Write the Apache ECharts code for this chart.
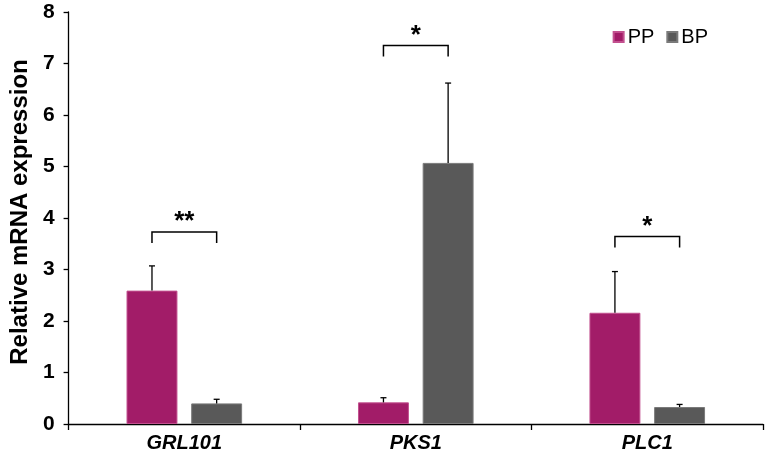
<!DOCTYPE html>
<html>
<head>
<meta charset="utf-8">
<script src="https://cdn.jsdelivr.net/npm/echarts@6/dist/echarts.min.js"></script>
<style>
    html, body { margin: 0; padding: 0; background: #fff; }
    #chart { width: 765px; height: 460px; }
</style>
</head>
<body>
<div id="chart"></div>
<script>
var genes = ['GRL101', 'PKS1', 'PLC1'];
var ppValues = [2.59, 0.42, 2.16];
var bpValues = [0.40, 5.07, 0.33];
var ppErrors = [0.48, 0.09, 0.80];
var bpErrors = [0.08, 1.55, 0.05];
// significance brackets: category index, height, label
var sigLevels = [3.73, 7.35, 3.64];
var sigLabels = ['**', '*', '*'];

var BAR_W = 0.22, BAR_GAP = 0.27;
var OFFSET = (BAR_W + BAR_W * BAR_GAP) / 2;
var FONT = '"Liberation Sans", Arial, sans-serif';

function errorBar(side) {
    return function (params, api) {
        var i = api.value(0);
        var top = api.coord([i, api.value(1) + api.value(2)]);
        var base = api.coord([i, api.value(1)]);
        var w = api.size([1, 0])[0];
        var x = base[0] + side * OFFSET * w;
        var style = { stroke: '#000', lineWidth: 1.3 };
        return {
            type: 'group',
            children: [
                { type: 'line', shape: { x1: x, y1: base[1], x2: x, y2: top[1] }, style: style },
                { type: 'line', shape: { x1: x - 3, y1: top[1], x2: x + 3, y2: top[1] }, style: style }
            ]
        };
    };
}

function bracket(params, api) {
    var i = api.value(0);
    var p = api.coord([i, api.value(1)]);
    var w = api.size([1, 0])[0];
    var x1 = p[0] - OFFSET * w, x2 = p[0] + OFFSET * w;
    var style = { stroke: '#000', lineWidth: 1.5, fill: 'none' };
    return {
        type: 'group',
        children: [
            { type: 'polyline', shape: { points: [[x1, p[1] + 11], [x1, p[1]], [x2, p[1]], [x2, p[1] + 11]] }, style: style },
            { type: 'text', style: { text: sigLabels[params.dataIndex], x: p[0], y: p[1] + 3,
                align: 'center', verticalAlign: 'bottom',
                font: 'bold 26px ' + FONT, fill: '#000' } }
        ]
    };
}

var chart = echarts.init(document.getElementById('chart'));

var option = {
    animation: false,
    backgroundColor: '#fff',
    textStyle: { fontFamily: FONT },
    grid: { left: 65, right: 2, top: 12, bottom: 36 },
    legend: {
        data: ['PP', 'BP'],
        right: 52,
        top: 22,
        icon: 'rect',
        itemWidth: 10,
        itemHeight: 10,
        itemGap: 12,
        textStyle: { fontSize: 20, color: '#000', padding: [0, 0, 0, -1] }
    },
    xAxis: {
        type: 'category',
        data: genes,
        axisLine: { lineStyle: { color: '#000', width: 1.3 } },
        axisTick: { show: true, length: 6, lineStyle: { color: '#000', width: 1.3 } },
        axisLabel: { color: '#000', fontSize: 20, fontWeight: 'bold', fontStyle: 'italic', margin: 9 }
    },
    yAxis: {
        type: 'value',
        min: 0,
        max: 8,
        interval: 1,
        name: 'Relative mRNA expression',
        nameLocation: 'middle',
        nameGap: 35,
        nameTextStyle: { fontSize: 24, fontWeight: 'bold', color: '#000', padding: [0, 0, 0, 12] },
        splitLine: { show: false },
        axisLine: { show: true, lineStyle: { color: '#000', width: 1.3 } },
        axisTick: { show: true, length: 5, lineStyle: { color: '#000', width: 1.3 } },
        axisLabel: { color: '#000', fontSize: 21, fontWeight: 'bold', margin: 14 }
    },
    series: [
        {
            name: 'PP',
            type: 'bar',
            data: ppValues,
            barWidth: (BAR_W * 100) + '%',
            barGap: (BAR_GAP * 100) + '%',
            itemStyle: { color: '#A21C68', borderColor: '#C2508F', borderWidth: 1 }
        },
        {
            name: 'BP',
            type: 'bar',
            data: bpValues,
            barWidth: (BAR_W * 100) + '%',
            itemStyle: { color: '#595959', borderColor: '#7a7a7a', borderWidth: 1 }
        },
        {
            type: 'custom',
            renderItem: errorBar(-1),
            data: genes.map(function (g, i) { return [i, ppValues[i], ppErrors[i]]; }),
            z: 5
        },
        {
            type: 'custom',
            renderItem: errorBar(1),
            data: genes.map(function (g, i) { return [i, bpValues[i], bpErrors[i]]; }),
            z: 5
        },
        {
            type: 'custom',
            renderItem: bracket,
            data: genes.map(function (g, i) { return [i, sigLevels[i]]; }),
            z: 5
        }
    ]
};

chart.setOption(option);
window.onresize = chart.resize;
</script>
</body>
</html>
